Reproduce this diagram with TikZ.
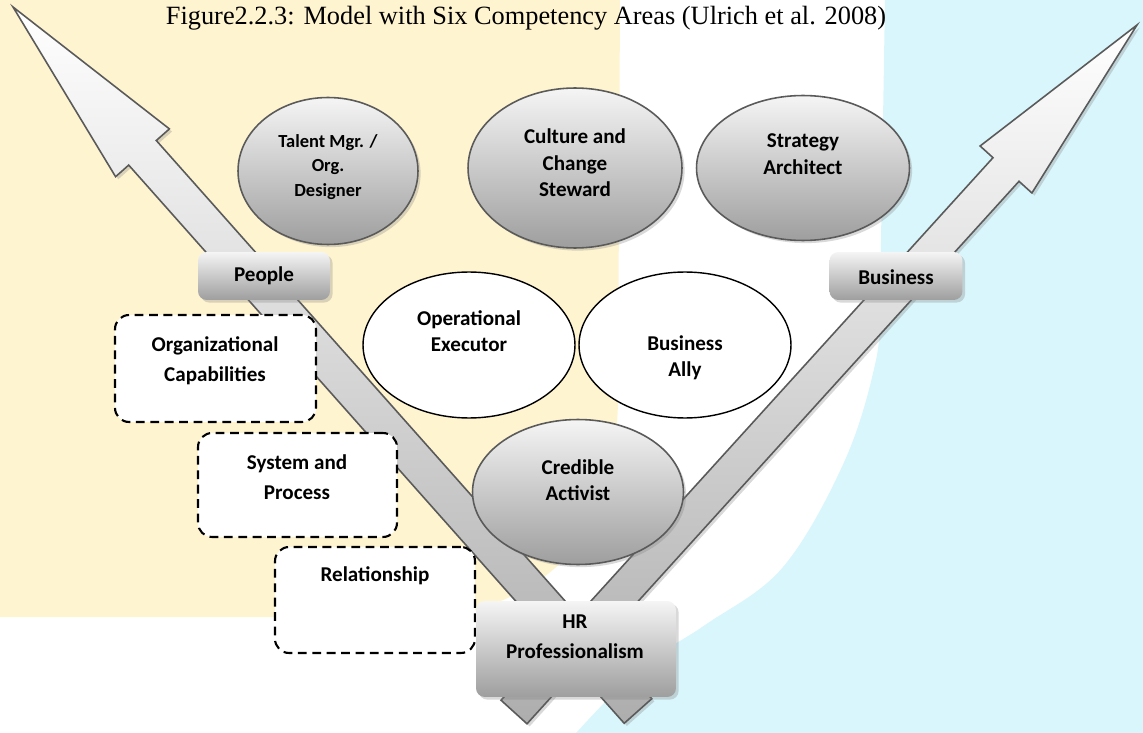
\documentclass[tikz,border=0pt]{standalone}
\usepackage{fontspec}
\setmainfont{Carlito}
\newfontfamily\captionfont{Liberation Serif}
\usetikzlibrary{shadows,shapes.geometric}

\definecolor{paleyellow}{RGB}{255,244,208}
\definecolor{palecyan}{RGB}{217,246,252}
\definecolor{rimgray}{RGB}{90,90,90}

\tikzset{
  shadegray/.style={top color=white!96!black, bottom color=black!38},
  softshadow/.style={drop shadow={shadow xshift=1.5pt,shadow yshift=-1.5pt,opacity=0.3}},
  grayoval/.style={ellipse, draw=rimgray, line width=0.9pt, shadegray, softshadow},
  whiteoval/.style={ellipse, draw=black, line width=0.8pt, fill=white},
  graybox/.style={rectangle, rounded corners=5pt, draw=none, shadegray, softshadow},
  dashbox/.style={rectangle, rounded corners=8pt, draw=black, line width=1.2pt, dash pattern=on 5pt off 3.2pt, fill=white},
  bigarrow/.style={draw=rimgray, line width=0.9pt, top color=white, bottom color=black!32, softshadow},
  lbl/.style={font=\bfseries\fontsize{12}{15}\selectfont, align=center, inner sep=0pt},
}

\begin{document}
\begin{tikzpicture}[x=0.02cm, y=-0.02cm]
  \useasboundingbox (0,0) rectangle (1143,733);
  % background areas
  \fill[paleyellow] (0,0) -- (620,0) -- (618,400) .. controls (616,530) and (560,585) .. (470,612) -- (420,617) -- (0,617) -- cycle;
  \fill[palecyan] (885,0) -- (1143,0) -- (1143,733)
    -- plot[smooth, tension=0.6] coordinates {(576,733) (641,667) (705,625) (783,567) (845,460) (876,360) (880,300)} -- cycle;

  \node[font=\captionfont\fontsize{15}{18}\selectfont, anchor=base, inner sep=0pt] (caption) at (526,25) {Figure2.2.3: Model with Six Competency Areas (Ulrich et al. 2008)};

  % the two big arrows
  \draw[bigarrow] (13,7) -- (169.4,128.9) -- (156.3,140.5) -- (651.8,698.7) -- (624.2,723.3) -- (128.7,165.1) -- (115.6,176.7) -- cycle;
  \draw[bigarrow] (1137,25) -- (980.1,146) -- (993,157.7) -- (501,700.2) -- (527,723.8) -- (1019,181.3) -- (1031.9,193) -- cycle;

  % competency ovals
  \node[grayoval, minimum width=3.6cm, minimum height=2.94cm] (talent) at (328,171) {};
  \node[grayoval, minimum width=4.28cm, minimum height=3.2cm] (culture) at (575,168) {};
  \node[grayoval, minimum width=4.26cm, minimum height=2.9cm] (strategy) at (803,168) {};
  \node[whiteoval, minimum width=4.24cm, minimum height=2.92cm] (operational) at (469,345) {};
  \node[whiteoval, minimum width=4.24cm, minimum height=2.92cm] (ally) at (685,345) {};
  \node[grayoval, minimum width=4.22cm, minimum height=2.9cm] (credible) at (578,492) {};

  % boxes
  \node[graybox, minimum width=2.64cm, minimum height=0.96cm] (people) at (264,276) {};
  \node[graybox, minimum width=2.66cm, minimum height=0.96cm] (business) at (896,276) {};
  \node[dashbox, minimum width=4.02cm, minimum height=2.14cm] (orgcap) at (215.5,368.5) {};
  \node[dashbox, minimum width=3.98cm, minimum height=2.08cm] (sysproc) at (297.5,485) {};
  \node[dashbox, minimum width=4cm, minimum height=2.12cm] (relation) at (375,600) {};
  \node[graybox, minimum width=4cm, minimum height=1.92cm] (hrpro) at (576,649) {};

  % texts
  \node[lbl, font=\bfseries\fontsize{10.5}{14}\selectfont] (talent-t) at (328,167) {Talent Mgr. /\\Org.\\Designer};
  \node[lbl] (culture-t) at (575,163) {Culture and\\Change\\Steward};
  \node[lbl] (strategy-t) at (803,154) {Strategy\\Architect};
  \node[lbl] (operational-t) at (469,331) {Operational\\Executor};
  \node[lbl] (ally-t) at (685,358) {Business\\Ally};
  \node[lbl] (credible-t) at (578,480) {Credible\\Activist};
  \node[lbl] (people-t) at (264,276) {People};
  \node[lbl] (business-t) at (896,277) {Business};
  \node[lbl, font=\bfseries\fontsize{12}{17}\selectfont] (orgcap-t) at (215,361) {Organizational\\Capabilities};
  \node[lbl, font=\bfseries\fontsize{12}{17}\selectfont] (sysproc-t) at (297,477) {System and\\Process};
  \node[lbl] (relation-t) at (375,576) {Relationship};
  \node[lbl, font=\bfseries\fontsize{12}{17}\selectfont] (hrpro-t) at (575,637) {HR\\Professionalism};
\end{tikzpicture}
\end{document}
